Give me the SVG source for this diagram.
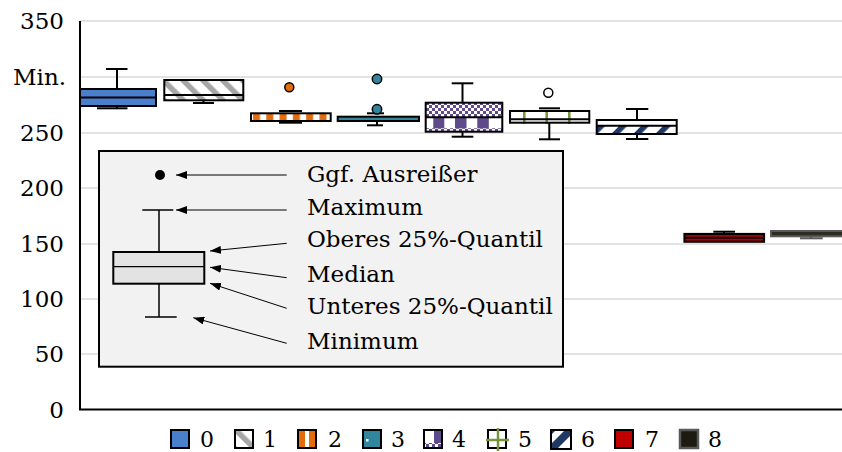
<svg xmlns="http://www.w3.org/2000/svg" width="842" height="452" viewBox="0 0 842 452">
<style>
text { font-family: "DejaVu Serif", "Liberation Serif", serif; fill: #000; }
.ax { font-size: 23px; text-anchor: end; }
.lg { font-size: 22px; }
.ex { font-size: 23px; }
.grid { stroke: #d9d9d9; stroke-width: 1.5; }
.bx { stroke: #000; stroke-width: 2; }
.wh { stroke: #000; stroke-width: 2; fill: none; }
.arr { stroke: #000; stroke-width: 1; fill: none; marker-end: url(#ah); }
.sw { stroke: #000; stroke-width: 2; }
</style>
<defs>
  <marker id="ah" viewBox="0 0 11 8" refX="11" refY="4" markerWidth="11" markerHeight="8" markerUnits="userSpaceOnUse" orient="auto">
    <path d="M0,0 L11,4 L0,8 z" fill="#000"/>
  </marker>
  <pattern id="p1" patternUnits="userSpaceOnUse" width="14" height="14" patternTransform="rotate(-45)">
    <rect width="14" height="14" fill="#fff"/>
    <rect width="5.5" height="14" fill="#a6a6a6"/>
  </pattern>
  <pattern id="p2" patternUnits="userSpaceOnUse" x="251" y="0" width="13.3" height="10">
    <rect width="13.3" height="10" fill="#fff"/>
    <rect x="2" width="7" height="10" fill="#e46c0a"/>
  </pattern>
  <pattern id="p4c" patternUnits="userSpaceOnUse" width="6" height="6">
    <rect width="6" height="6" fill="#fff"/>
    <rect width="3" height="3" fill="#5f4b8b"/>
    <rect x="3" y="3" width="3" height="3" fill="#5f4b8b"/>
  </pattern>
  <pattern id="p6" patternUnits="userSpaceOnUse" width="15.5" height="15.5" patternTransform="rotate(45)">
    <rect width="15.5" height="15.5" fill="#fff"/>
    <rect width="5.5" height="15.5" fill="#1f3864"/>
  </pattern>
</defs>

<rect width="842" height="452" fill="#fff"/>

<g id="grid">
  <line class="grid" x1="80" y1="21" x2="842" y2="21"/>
  <line class="grid" x1="80" y1="77" x2="842" y2="77"/>
  <line class="grid" x1="80" y1="133" x2="842" y2="133"/>
  <line class="grid" x1="80" y1="188" x2="842" y2="188"/>
  <line class="grid" x1="80" y1="244" x2="842" y2="244"/>
  <line class="grid" x1="80" y1="299" x2="842" y2="299"/>
  <line class="grid" x1="80" y1="354" x2="842" y2="354"/>
</g>

<g id="axis-labels">
  <text class="ax" x="64" y="29">350</text>
  <text class="ax" x="66" y="85">Min.</text>
  <text class="ax" x="64" y="141">250</text>
  <text class="ax" x="64" y="196">200</text>
  <text class="ax" x="64" y="252">150</text>
  <text class="ax" x="64" y="307">100</text>
  <text class="ax" x="64" y="362">50</text>
  <text class="ax" x="64" y="418">0</text>
</g>

<g id="box0">
  <line class="wh" x1="117" y1="69" x2="117" y2="89"/>
  <line class="wh" x1="106" y1="69" x2="127.5" y2="69"/>
  <line class="wh" x1="117" y1="106" x2="117" y2="108.3"/>
  <line class="wh" x1="97" y1="108.3" x2="127.5" y2="108.3"/>
  <rect class="bx" x="80" y="89" width="76" height="17" fill="#4a7fcc"/>
  <line class="wh" x1="80" y1="97.5" x2="156" y2="97.5"/>
</g>

<g id="box1">
  <line class="wh" x1="203.5" y1="100.3" x2="203.5" y2="103"/>
  <line class="wh" x1="193" y1="103" x2="214" y2="103"/>
  <rect class="bx" x="164.3" y="80" width="79" height="20.3" fill="url(#p1)"/>
  <line class="wh" x1="164.3" y1="95" x2="243.3" y2="95"/>
</g>

<g id="box2">
  <line class="wh" x1="279" y1="111" x2="302" y2="111"/>
  <line class="wh" x1="279" y1="122.7" x2="302" y2="122.7"/>
  <rect class="bx" x="251" y="113.3" width="79.7" height="7.7" fill="url(#p2)"/>
  <circle cx="289.3" cy="87.3" r="4.5" fill="#e46c0a" stroke="#000" stroke-width="1.5"/>
</g>

<g id="box3">
  <line class="wh" x1="367" y1="113.3" x2="384" y2="113.3"/>
  <line class="wh" x1="377" y1="121" x2="377" y2="125.3"/>
  <line class="wh" x1="367" y1="125.3" x2="383" y2="125.3"/>
  <rect class="bx" x="337.7" y="116.7" width="81.3" height="4.3" fill="#31859c"/>
  <circle cx="377" cy="79" r="4.7" fill="#31859c" stroke="#000" stroke-width="1.5"/>
  <circle cx="377" cy="109.3" r="4.7" fill="#31859c" stroke="#000" stroke-width="1.5"/>
</g>

<g id="box4">
  <line class="wh" x1="462.5" y1="83.3" x2="462.5" y2="102.7"/>
  <line class="wh" x1="451.7" y1="83.3" x2="473.3" y2="83.3"/>
  <line class="wh" x1="462.5" y1="131.7" x2="462.5" y2="136.7"/>
  <line class="wh" x1="451.7" y1="136.7" x2="473.3" y2="136.7"/>
  <rect x="425.7" y="102.7" width="76.6" height="29" fill="#fff"/>
  <rect x="425.7" y="102.7" width="76.6" height="14.6" fill="url(#p4c)"/>
  <rect x="425.7" y="128.3" width="76.6" height="3.4" fill="url(#p4c)"/>
  <rect x="433.3" y="117.3" width="11" height="11" fill="#5f4b8b"/>
  <rect x="455" y="117.3" width="11.5" height="11" fill="#5f4b8b"/>
  <rect x="477.3" y="117.3" width="11.5" height="11" fill="#5f4b8b"/>
  <rect class="bx" x="425.7" y="102.7" width="76.6" height="29" fill="none"/>
  <line class="wh" x1="425.7" y1="117.3" x2="502.3" y2="117.3"/>
</g>

<g id="box5">
  <line class="wh" x1="539" y1="108.3" x2="560" y2="108.3"/>
  <line class="wh" x1="549.3" y1="122.7" x2="549.3" y2="139.3"/>
  <line class="wh" x1="539" y1="139.3" x2="560" y2="139.3"/>
  <rect x="510" y="111" width="79.3" height="11.7" fill="#fff"/>
  <g stroke="#77933c" stroke-width="2.5">
    <line x1="524.3" y1="111" x2="524.3" y2="124"/>
    <line x1="546.7" y1="111" x2="546.7" y2="124"/>
    <line x1="569.3" y1="111" x2="569.3" y2="124"/>
  </g>
  <rect class="bx" x="510" y="111" width="79.3" height="11.7" fill="none"/>
  <line class="wh" x1="510" y1="119.3" x2="589.3" y2="119.3"/>
  <circle cx="548.3" cy="92.7" r="4.5" fill="#fff" stroke="#000" stroke-width="1.5"/>
</g>

<g id="box6">
  <line class="wh" x1="637" y1="109" x2="637" y2="120"/>
  <line class="wh" x1="626" y1="109" x2="648.3" y2="109"/>
  <line class="wh" x1="637" y1="134" x2="637" y2="139"/>
  <line class="wh" x1="626" y1="139" x2="648.3" y2="139"/>
  <rect x="596.7" y="120" width="80" height="14" fill="#fff"/>
  <rect x="596.7" y="125.7" width="80" height="8.3" fill="url(#p6)"/>
  <rect class="bx" x="596.7" y="120" width="80" height="14" fill="none"/>
  <line class="wh" x1="596.7" y1="125.7" x2="676.7" y2="125.7"/>
</g>

<g id="box7">
  <line class="wh" x1="724" y1="231.7" x2="724" y2="234"/>
  <line class="wh" x1="713.3" y1="231.7" x2="735" y2="231.7"/>
  <rect x="684.5" y="234" width="79.5" height="7.7" fill="#c00000" stroke="#000" stroke-width="2.2"/>
  <line x1="684.5" y1="237.85" x2="764" y2="237.85" stroke="#000" stroke-width="2"/>
</g>

<g id="box8">
  <line x1="811" y1="236.3" x2="811" y2="238.3" stroke="#595959" stroke-width="2"/>
  <line x1="800" y1="238.3" x2="822.7" y2="238.3" stroke="#595959" stroke-width="2"/>
  <rect x="771" y="231" width="80" height="5.3" fill="#2e2c22" stroke="#595959" stroke-width="2"/>
</g>

<g id="axes">
  <line x1="80" y1="21" x2="80" y2="410" stroke="#000" stroke-width="2"/>
  <line x1="79" y1="409.5" x2="842" y2="409.5" stroke="#000" stroke-width="2"/>
</g>

<g id="explain">
  <rect x="99" y="151" width="464" height="215.7" fill="#f2f2f2" stroke="#000" stroke-width="2"/>
  <g id="sample-box">
    <circle cx="160" cy="175" r="5" fill="#000"/>
    <line x1="142.3" y1="210" x2="173.3" y2="210" stroke="#000" stroke-width="1.5"/>
    <line x1="159" y1="210" x2="159" y2="252" stroke="#000" stroke-width="1.5"/>
    <line x1="159" y1="283.7" x2="159" y2="317" stroke="#000" stroke-width="1.5"/>
    <line x1="145" y1="317" x2="176.7" y2="317" stroke="#000" stroke-width="1.5"/>
    <rect x="113.3" y="252" width="91" height="31.7" fill="#e3e3e3" stroke="#000" stroke-width="2"/>
    <line x1="113.3" y1="266.7" x2="204.3" y2="266.7" stroke="#000" stroke-width="1.3"/>
  </g>
  <g id="explain-labels">
    <text class="ex" x="307" y="181.7">Ggf. Ausreißer</text>
    <text class="ex" x="307" y="214.5">Maximum</text>
    <text class="ex" x="307" y="247">Oberes 25%-Quantil</text>
    <text class="ex" x="307" y="282.3">Median</text>
    <text class="ex" x="307" y="313.5">Unteres 25%-Quantil</text>
    <text class="ex" x="307" y="349">Minimum</text>
  </g>
</g>

<g id="connectors">
  <line class="arr" x1="286.7" y1="175" x2="176" y2="175"/>
  <line class="arr" x1="286.7" y1="210" x2="176" y2="210"/>
  <line class="arr" x1="286.7" y1="243.3" x2="210" y2="251"/>
  <line class="arr" x1="286.7" y1="277.7" x2="210" y2="267.3"/>
  <line class="arr" x1="286.7" y1="308.3" x2="210" y2="283.3"/>
  <line class="arr" x1="286.7" y1="343.3" x2="193.3" y2="317.7"/>
</g>

<g id="legend">
  <g id="lg0">
    <rect class="sw" x="171" y="430" width="18" height="18" fill="#4a7fcc"/>
    <text class="lg" x="200" y="447">0</text>
  </g>
  <g id="lg1">
    <rect class="sw" x="235" y="430" width="18" height="18" fill="url(#p1)"/>
    <text class="lg" x="263" y="447">1</text>
  </g>
  <g id="lg2">
    <rect x="298" y="430" width="18" height="18" fill="#e46c0a"/>
    <rect x="305" y="430" width="4" height="18" fill="#fff"/>
    <rect class="sw" x="298" y="430" width="18" height="18" fill="none"/>
    <text class="lg" x="328" y="447">2</text>
  </g>
  <g id="lg3">
    <rect class="sw" x="363" y="430" width="18" height="18" fill="#31859c"/>
    <rect x="366" y="439" width="2.5" height="2.5" fill="#fff"/>
    <text class="lg" x="391" y="447">3</text>
  </g>
  <g id="lg4">
    <rect x="424" y="430" width="18" height="18" fill="#fff"/>
    <rect x="434" y="430" width="8" height="13" fill="#5f4b8b"/>
    <rect x="424" y="443" width="18" height="5" fill="url(#p4c)"/>
    <rect class="sw" x="424" y="430" width="18" height="18" fill="none"/>
    <text class="lg" x="452" y="447">4</text>
  </g>
  <g id="lg5">
    <rect class="sw" x="488" y="430" width="18" height="18" fill="#fff"/>
    <line x1="498" y1="428" x2="498" y2="451" stroke="#77933c" stroke-width="2.5"/>
    <line x1="486" y1="440" x2="509" y2="440" stroke="#77933c" stroke-width="2.5"/>
    <text class="lg" x="518" y="447">5</text>
  </g>
  <g id="lg6">
    <rect x="551" y="430" width="20" height="19" fill="#fff"/>
    <polygon points="551,444 551,449 557,449 571,435 571,430 565,430" fill="#1f3864"/>
    <polygon points="551,430 556,430 551,435" fill="#1f3864"/>
    <rect class="sw" x="551" y="430" width="20" height="19" fill="none"/>
    <text class="lg" x="581" y="447">6</text>
  </g>
  <g id="lg7">
    <rect class="sw" x="615" y="430" width="18" height="18" fill="#c00000"/>
    <text class="lg" x="645" y="447">7</text>
  </g>
  <g id="lg8">
    <rect x="680" y="430" width="18" height="18" fill="#1d1b10" stroke="#595959" stroke-width="2.5"/>
    <text class="lg" x="708" y="447">8</text>
  </g>
</g>
</svg>
